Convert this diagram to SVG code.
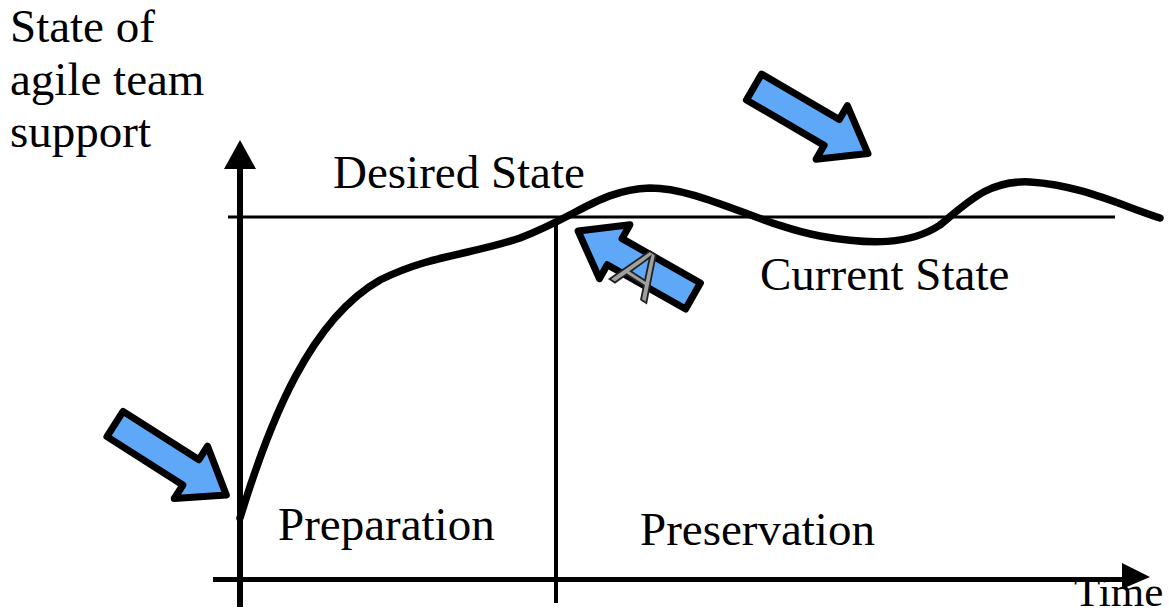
<svg xmlns="http://www.w3.org/2000/svg" width="1169" height="613" viewBox="0 0 1169 613">
<style>
.t{font-family:"Liberation Serif","Times New Roman",serif;font-size:47px;fill:#000}
.ax{stroke:#000;fill:none}
.bl{fill:#5fa8f7;stroke:#000;stroke-width:7;stroke-linejoin:round}
</style>
<defs>
<polygon id="barrow" points="0,-15 90,-15 90,-31 132,0 90,31 90,15 0,15"/>
</defs>
<rect width="1169" height="613" fill="#fff"/>
<g id="connectors">
<line class="ax" x1="240" y1="607" x2="240" y2="168" stroke-width="6"/>
<polygon points="240,140 224,169 256,169" fill="#000"/>
<line class="ax" x1="213" y1="579.5" x2="1124" y2="579.5" stroke-width="5"/>
<polygon points="1150,577 1122,563 1122,589" fill="#000"/>
<line class="ax" x1="556" y1="220" x2="556" y2="603" stroke-width="4"/>
<line class="ax" x1="228" y1="217" x2="1115" y2="217" stroke-width="3"/>
<path class="ax" stroke-width="7.5" stroke-linecap="round" d="M 240 518 C 270 420, 310 320, 380 280 C 430 255, 470 255, 520 238 C 580 215, 600 190, 650 188 C 700 188, 760 225, 820 236 C 870 245, 910 245, 940 225 C 970 200, 990 180, 1030 182 C 1080 185, 1120 205, 1160 218"/>
</g>
<g id="arrow1"><use href="#barrow" class="bl" transform="translate(115,424) rotate(32.5)"/></g>
<g id="arrow2"><use href="#barrow" class="bl" transform="translate(754,87) rotate(30.3)"/></g>
<g id="arrow3"><use href="#barrow" class="bl" transform="translate(693,296) rotate(209.5)"/>
<text x="0" y="0" transform="translate(628,291) rotate(33)" text-anchor="middle" font-family="Liberation Sans, Arial, sans-serif" font-size="66" fill="#a0a0a0" stroke="#222" stroke-width="1.8">A</text></g>
<g id="ylabel"><text class="t" x="10" y="42">State of</text><text class="t" x="10" y="95">agile team</text><text class="t" x="10" y="147">support</text></g>
<g id="desired"><text class="t" x="333" y="188">Desired State</text></g>
<g id="current"><text class="t" x="760" y="290">Current State</text></g>
<g id="prep"><text class="t" x="278" y="540">Preparation</text></g>
<g id="pres"><text class="t" x="640" y="545">Preservation</text></g>
<g id="time"><text class="t" x="1074" y="606" style="font-size:43px">Time</text></g>
</svg>
